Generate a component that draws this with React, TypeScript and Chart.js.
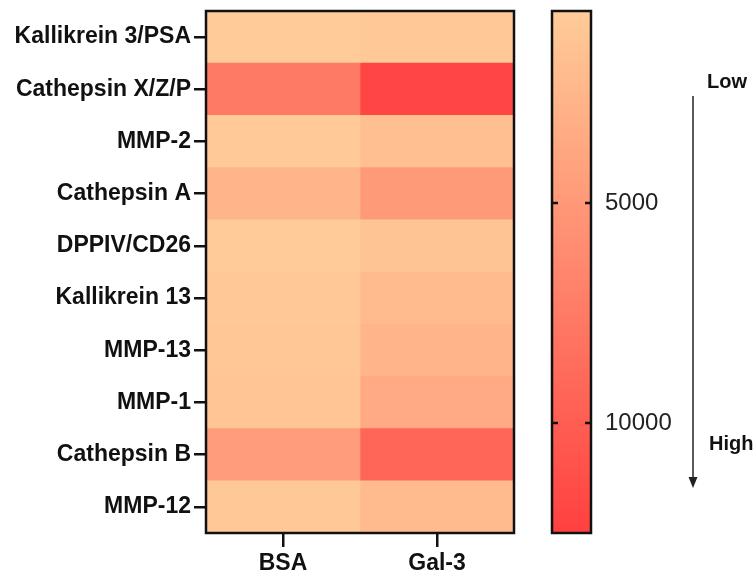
import React, { useEffect, useRef } from 'react';
import { Chart, registerables } from 'chart.js';
Chart.register(...registerables);

const proteins = [
  'Kallikrein 3/PSA',
  'Cathepsin X/Z/P',
  'MMP-2',
  'Cathepsin A',
  'DPPIV/CD26',
  'Kallikrein 13',
  'MMP-13',
  'MMP-1',
  'Cathepsin B',
  'MMP-12',
];
const conditions = ['BSA', 'Gal-3'];
const bsaValues = [700, 7600, 800, 2600, 750, 1000, 1050, 1250, 4700, 850];
const gal3Values = [850, 12000, 1700, 4850, 1300, 2050, 2650, 3500, 9300, 2200];
const scaleMin = 636;
const scaleMax = 12500;
const colorbarTicks = [5000, 10000];

const LOW_RGB = [255, 204, 153];
const HIGH_RGB = [255, 64, 64];
const FONT = "'Liberation Sans', Arial, sans-serif";

function colorFor(v: number): string {
  const t = Math.max(0, Math.min(1, (v - scaleMin) / (scaleMax - scaleMin)));
  const c = LOW_RGB.map((l, i) => Math.round(l + (HIGH_RGB[i] - l) * t));
  return `rgb(${c[0]},${c[1]},${c[2]})`;
}

function zeroPadding(s: any) {
  s.paddingTop = 0;
  s.paddingBottom = 0;
  s.paddingLeft = 0;
  s.paddingRight = 0;
}

const framePlugin = {
  id: 'frame',
  afterDatasetsDraw(chart: any) {
    const { ctx, chartArea } = chart;
    const { left, top, right, bottom } = chartArea;
    ctx.save();
    ctx.strokeStyle = '#111';
    ctx.lineWidth = 2.5;
    ctx.strokeRect(left, top, right - left, bottom - top);
    ctx.restore();
  },
};

const innerTicksPlugin = {
  id: 'innerTicks',
  afterDatasetsDraw(chart: any) {
    const { ctx, chartArea } = chart;
    const scale = chart.scales.y;
    ctx.save();
    ctx.strokeStyle = '#111';
    ctx.lineWidth = 2.5;
    colorbarTicks.forEach((v) => {
      const y = scale.getPixelForValue(v);
      ctx.beginPath();
      ctx.moveTo(chartArea.left, y);
      ctx.lineTo(chartArea.left + 6, y);
      ctx.moveTo(chartArea.right - 6, y);
      ctx.lineTo(chartArea.right, y);
      ctx.stroke();
    });
    ctx.restore();
  },
};

const arrowPlugin = {
  id: 'arrowNote',
  afterDraw(chart: any) {
    const { ctx } = chart;
    const x = 163;
    ctx.save();
    ctx.strokeStyle = '#222';
    ctx.fillStyle = '#222';
    ctx.lineWidth = 1.5;
    ctx.beginPath();
    ctx.moveTo(x, 96);
    ctx.lineTo(x, 478);
    ctx.stroke();
    ctx.beginPath();
    ctx.moveTo(x - 4.5, 477);
    ctx.lineTo(x + 4.5, 477);
    ctx.lineTo(x, 488);
    ctx.closePath();
    ctx.fill();
    ctx.font = `bold 20px ${FONT}`;
    ctx.fillStyle = '#111';
    ctx.textAlign = 'left';
    ctx.textBaseline = 'middle';
    ctx.fillText('Low', 177, 82);
    ctx.fillText('High', 179, 444);
    ctx.restore();
  },
};

export default function App() {
  const heatRef = useRef<HTMLCanvasElement | null>(null);
  const barRef = useRef<HTMLCanvasElement | null>(null);

  useEffect(() => {
    document.body.style.margin = '0';
    const heat = new Chart(heatRef.current as HTMLCanvasElement, {
      type: 'bar',
      data: {
        labels: proteins,
        datasets: [
          {
            label: conditions[0],
            data: proteins.map(() => [0, 1]) as any,
            backgroundColor: bsaValues.map(colorFor),
            grouped: false,
            barPercentage: 1,
            categoryPercentage: 1,
            borderWidth: 0,
          } as any,
          {
            label: conditions[1],
            data: proteins.map(() => [1, 2]) as any,
            backgroundColor: gal3Values.map(colorFor),
            grouped: false,
            barPercentage: 1,
            categoryPercentage: 1,
            borderWidth: 0,
          } as any,
        ],
      },
      options: {
        indexAxis: 'y',
        responsive: false,
        animation: false,
        layout: { padding: { top: 11, right: 16, left: 0, bottom: 0 } },
        plugins: { legend: { display: false }, tooltip: { enabled: false } },
        scales: {
          x: {
            type: 'linear',
            min: 0,
            max: 2,
            afterBuildTicks: (s: any) => {
              s.ticks = conditions.map((_, i) => ({ value: i + 0.5 }));
            },
            ticks: {
              callback: (v: any) => conditions[Math.floor(Number(v))],
              font: { family: FONT, size: 23, weight: 'bold' },
              color: '#111',
              padding: 3,
              maxRotation: 0,
              autoSkip: false,
            },
            grid: { drawOnChartArea: false, drawTicks: true, tickLength: 14, color: '#111', lineWidth: 2.5 },
            border: { display: false },
            afterFit: (s: any) => {
              s.height = 46;
              zeroPadding(s);
            },
          } as any,
          y: {
            type: 'category',
            grid: { offset: false, drawOnChartArea: false, drawTicks: true, tickLength: 12, color: '#111', lineWidth: 2.5 },
            ticks: {
              font: { family: FONT, size: 23, weight: 'bold' },
              color: '#111',
              padding: 3,
              autoSkip: false,
            },
            border: { display: false },
            afterFit: (s: any) => {
              s.width = 206;
              zeroPadding(s);
            },
          } as any,
        },
      },
      plugins: [framePlugin],
    });

    const bar = new Chart(barRef.current as HTMLCanvasElement, {
      type: 'bar',
      data: {
        labels: [''],
        datasets: [
          {
            data: [[scaleMin, scaleMax]] as any,
            backgroundColor: (ctx: any) => {
              const chart = ctx.chart;
              const a = chart.chartArea;
              if (!a) return colorFor(scaleMin);
              const g = chart.ctx.createLinearGradient(0, a.top, 0, a.bottom);
              g.addColorStop(0, colorFor(scaleMin));
              g.addColorStop(1, colorFor(scaleMax));
              return g;
            },
            barPercentage: 1,
            categoryPercentage: 1,
            borderWidth: 0,
          } as any,
        ],
      },
      options: {
        responsive: false,
        animation: false,
        layout: { padding: { left: 22, top: 11, bottom: 46, right: 0 } },
        plugins: { legend: { display: false }, tooltip: { enabled: false } },
        scales: {
          x: { display: false },
          y: {
            type: 'linear',
            position: 'right',
            reverse: true,
            min: scaleMin,
            max: scaleMax,
            afterBuildTicks: (s: any) => {
              s.ticks = colorbarTicks.map((v) => ({ value: v }));
            },
            ticks: {
              font: { family: FONT, size: 24 },
              color: '#222',
              padding: 14,
              callback: (v: any) => String(v),
            },
            grid: { display: false, drawTicks: false },
            border: { display: false },
            afterFit: (s: any) => {
              s.width = 165;
              zeroPadding(s);
            },
          } as any,
        },
      },
      plugins: [framePlugin, innerTicksPlugin, arrowPlugin],
    });

    return () => {
      heat.destroy();
      bar.destroy();
    };
  }, []);

  return (
    <div style={{ position: 'relative', width: 756, height: 579, background: '#fff' }}>
      <canvas
        ref={heatRef}
        width={530}
        height={579}
        style={{ position: 'absolute', left: 0, top: 0, width: 530, height: 579 }}
      />
      <canvas
        ref={barRef}
        width={226}
        height={579}
        style={{ position: 'absolute', left: 530, top: 0, width: 226, height: 579 }}
      />
    </div>
  );
}
